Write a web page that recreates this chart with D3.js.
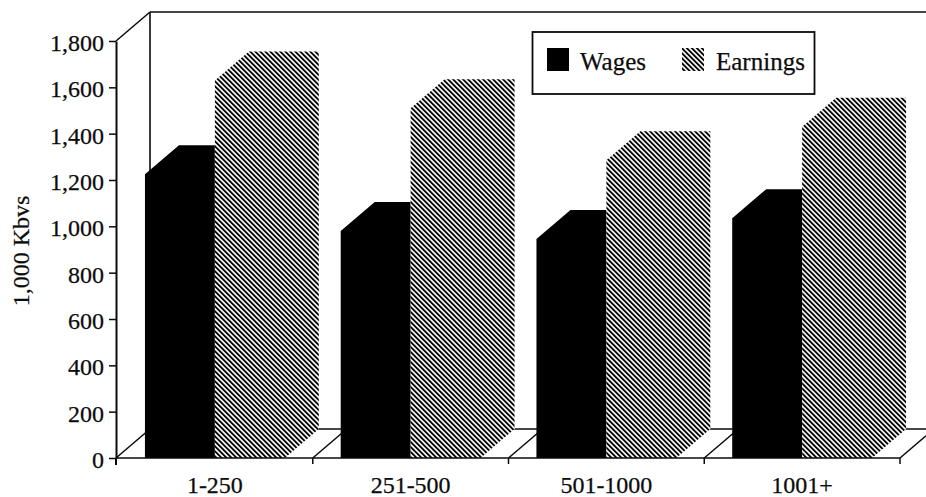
<!DOCTYPE html>
<html><head><meta charset="utf-8">
<script src="https://cdn.jsdelivr.net/npm/d3@7"></script>
<style>html,body{margin:0;padding:0;background:#fff}svg{display:block}
text{font-family:"Liberation Serif",serif;fill:#0c0c0c;stroke:#0c0c0c;stroke-width:.25px}</style></head>
<body><svg id="c" width="926" height="497"></svg>
<script>
const categories = ["1-250","251-500","501-1000","1001+"];
const seriesNames = ["Wages","Earnings"];
const wages = [1225,980,945,1035];
const earnings = [1630,1510,1285,1430];
const yTicks = [0,200,400,600,800,1000,1200,1400,1600,1800];
const yTitle = "1,000 Kbvs";

const W=926,H=497, pL=116,pR=900,pB=458,pT=41, dx=34, dy=29, ink="#0a0a0a";
const svg=d3.select("#c");
const x=d3.scaleBand().domain(categories).range([pL+1,pR]).paddingInner(56/196).paddingOuter(28/196);
const xs=d3.scaleBand().domain(seriesNames).range([0,x.bandwidth()]);
const y=d3.scaleLinear().domain([0,1800]).range([pB,pT]);

const per=5/Math.SQRT2, lw=1.85;
const p=svg.append("defs").append("pattern").attr("id","hatch").attr("patternUnits","userSpaceOnUse")
 .attr("width",per).attr("height",per).attr("patternTransform","rotate(45)");
p.append("rect").attr("width",per).attr("height",per).attr("fill","#fff");
p.append("rect").attr("width",per).attr("height",lw).attr("fill","#000");

const g=svg.append("g");
const ln=(a,b,c,d,w=2)=>g.append("line").attr("x1",a).attr("y1",b).attr("x2",c).attr("y2",d).attr("stroke",ink).attr("stroke-width",w);
ln(pL+dx,pT-dy,W,pT-dy,1.6);
ln(pL+dx,pT-dy,pL+dx,pB-dy,1.6);
ln(pL,pT,pL+dx,pT-dy,1.5);
ln(pL,pB,pL+dx,pB-dy,1.5);
ln(pL+dx,pB-dy,W,pB-dy,1.5);
categories.forEach((c,i)=>{
  const r=pL+x.step()*(i+1)+1;
  const ex=Math.min(W,r+dx);
  ln(r,pB,ex,pB-dy*(ex-r)/dx,1.5);
});

const poly=(v,c,s)=>{
  const a=x(c)+xs(s),b=a+xs.bandwidth(),yv=y(v),yb=y(0);
  return [[a,yb],[b,yb],[b+dx,yb-dy],[b+dx,yv-dy],[a+dx,yv-dy],[a,yv]];
};
const rows=categories.map((c,i)=>({c,w:wages[i],e:earnings[i]}));
const bars=g.selectAll("g.bar").data(rows).join("g").attr("class","bar");
bars.append("polygon").attr("points",d=>poly(d.w,d.c,"Wages").join(" ")).attr("fill","#000");
bars.append("polygon").attr("points",d=>poly(d.e,d.c,"Earnings").join(" ")).attr("fill","#fff");
bars.append("polygon").attr("points",d=>poly(d.e,d.c,"Earnings").join(" ")).attr("fill","url(#hatch)");

const ya=d3.axisLeft(y).tickValues(yTicks).tickFormat(d3.format(",")).tickSize(7).tickPadding(5).tickSizeOuter(0);
const yg=svg.append("g").attr("transform",`translate(${pL},0)`).call(ya);
yg.selectAll("text").attr("font-size",24).attr("dy","0.4em");
yg.select(".domain").attr("stroke-width",2).attr("stroke",ink);
yg.selectAll("line").attr("stroke-width",1.5).attr("stroke",ink);
svg.append("line").attr("x1",pL).attr("x2",pL).attr("y1",pB).attr("y2",pB+7).attr("stroke",ink).attr("stroke-width",2);

const xa=d3.axisBottom(x).tickSize(0).tickPadding(18);
const xg=svg.append("g").attr("transform",`translate(0,${pB})`).call(xa);
xg.select(".domain").remove();
xg.selectAll("text").attr("font-size",24);
svg.append("line").attr("x1",pL).attr("x2",pR).attr("y1",pB).attr("y2",pB).attr("stroke",ink).attr("stroke-width",1.6);
categories.forEach((c,i)=>{const t=x.step()*(i+1)+pL+1;
  svg.append("line").attr("x1",t).attr("x2",t).attr("y1",pB).attr("y2",pB+6).attr("stroke",ink).attr("stroke-width",1.5);});

svg.append("text").attr("transform","translate(29,251) rotate(-90)").attr("text-anchor","middle").attr("font-size",24).text(yTitle);

const lg=svg.append("g");
lg.append("rect").attr("x",532.5).attr("y",32).attr("width",282).attr("height",62).attr("fill","#fff").attr("stroke",ink).attr("stroke-width",1.8);
const lx=[547,682], tx=[580,716];
seriesNames.forEach((s,i)=>{
  lg.append("rect").attr("x",lx[i]).attr("y",48).attr("width",22).attr("height",23).attr("fill",i?"url(#hatch)":"#000");
  lg.append("text").attr("x",tx[i]).attr("y",70).attr("font-size",25).text(s);
});
</script></body></html>
